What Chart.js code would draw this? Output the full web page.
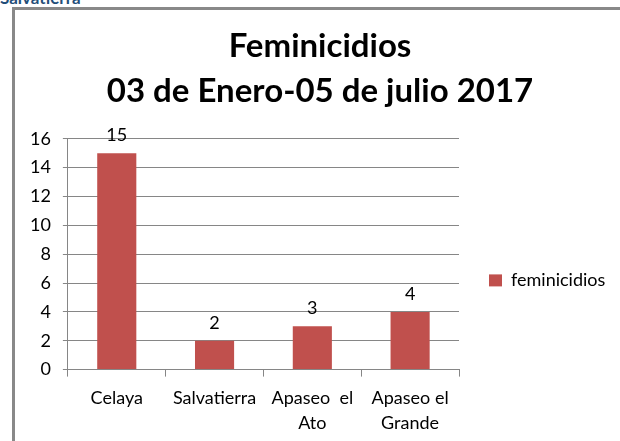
<!DOCTYPE html>
<html>
<head>
<meta charset="utf-8">
<script src="https://cdn.jsdelivr.net/npm/chart.js@4"></script>
<style>
  html, body { margin: 0; padding: 0; background: #fff; }
  #wrap { position: relative; width: 620px; height: 441px; overflow: hidden; }
  #cap { position: absolute; left: 0; top: -13px; font: bold 17px Lato, sans-serif; color: #1f4e79; }
  #frame { position: absolute; left: 12px; top: 7px; width: 620px; height: 460px;
           border-top: 3px solid #898989; border-left: 3px solid #898989; }
  #myChart { position: absolute; left: 0; top: 0; }
</style>
</head>
<body>
<div id="wrap">
  <div id="cap">Salvatierra</div>
  <div id="frame"></div>
  <canvas id="myChart" width="620" height="441"></canvas>
</div>
<script>
var municipios = [['Celaya'], ['Salvatierra'], ['Apaseo  el', 'Ato'], ['Apaseo el', 'Grande']];
var feminicidios = [15, 2, 3, 4];
var serieNombre = 'feminicidios';
var tituloLineas = ['Feminicidios', '03 de Enero-05 de julio 2017'];

// etiquetas de valor encima de cada barra
var valorLabels = {
    id: 'valorLabels',
    afterDatasetsDraw: function (chart) {
        var c = chart.ctx;
        var meta = chart.getDatasetMeta(0);
        c.save();
        c.font = '18px Lato, sans-serif';
        c.fillStyle = '#000';
        c.textAlign = 'center';
        c.textBaseline = 'alphabetic';
        meta.data.forEach(function (bar, i) {
            c.fillText(String(feminicidios[i]), bar.x, bar.y - 12);
        });
        c.restore();
    }
};

var ctx = document.getElementById('myChart').getContext('2d');

var myChart = new Chart(ctx, {
    type: 'bar',
    data: {
        labels: municipios,
        datasets: [{
            label: serieNombre,
            data: feminicidios,
            backgroundColor: '#c0504d',
            borderWidth: 0,
            categoryPercentage: 1,
            barPercentage: 0.4
        }]
    },
    options: {
        responsive: false,
        animation: false,
        layout: { padding: { left: 18, right: 14, top: 0, bottom: -4 } },
        plugins: {
            title: {
                display: true,
                // dos espacios iniciales: el título va un poco a la derecha del centro
                text: tituloLineas.map(function (t) { return '\u00a0\u00a0' + t; }),
                color: '#000',
                font: { family: 'Lato, sans-serif', size: 33, weight: 'bold', lineHeight: 1.36 },
                padding: { top: 24, bottom: 25 }
            },
            legend: {
                position: 'right',
                title: { display: true, text: ' ', font: { size: 4 }, padding: { top: 111, bottom: 0 } },
                labels: {
                    color: '#000',
                    font: { family: 'Lato, sans-serif', size: 18 },
                    boxWidth: 13,
                    boxHeight: 12,
                    padding: 30
                }
            },
            tooltip: { enabled: false }
        },
        scales: {
            x: {
                grid: { display: true, drawOnChartArea: false, offset: true, color: '#868686', tickLength: 7 },
                border: { color: '#868686' },
                ticks: {
                    color: '#000',
                    maxRotation: 0,
                    font: { family: 'Lato, sans-serif', size: 18, lineHeight: 1.4 },
                    padding: 9
                }
            },
            y: {
                min: 0,
                max: 16,
                ticks: {
                    stepSize: 2,
                    color: '#000',
                    font: { family: 'Lato, sans-serif', size: 18 },
                    padding: 12
                },
                grid: { color: '#868686', tickLength: 5 },
                border: { color: '#868686' }
            }
        }
    },
    plugins: [valorLabels]
});
</script>
</body>
</html>
